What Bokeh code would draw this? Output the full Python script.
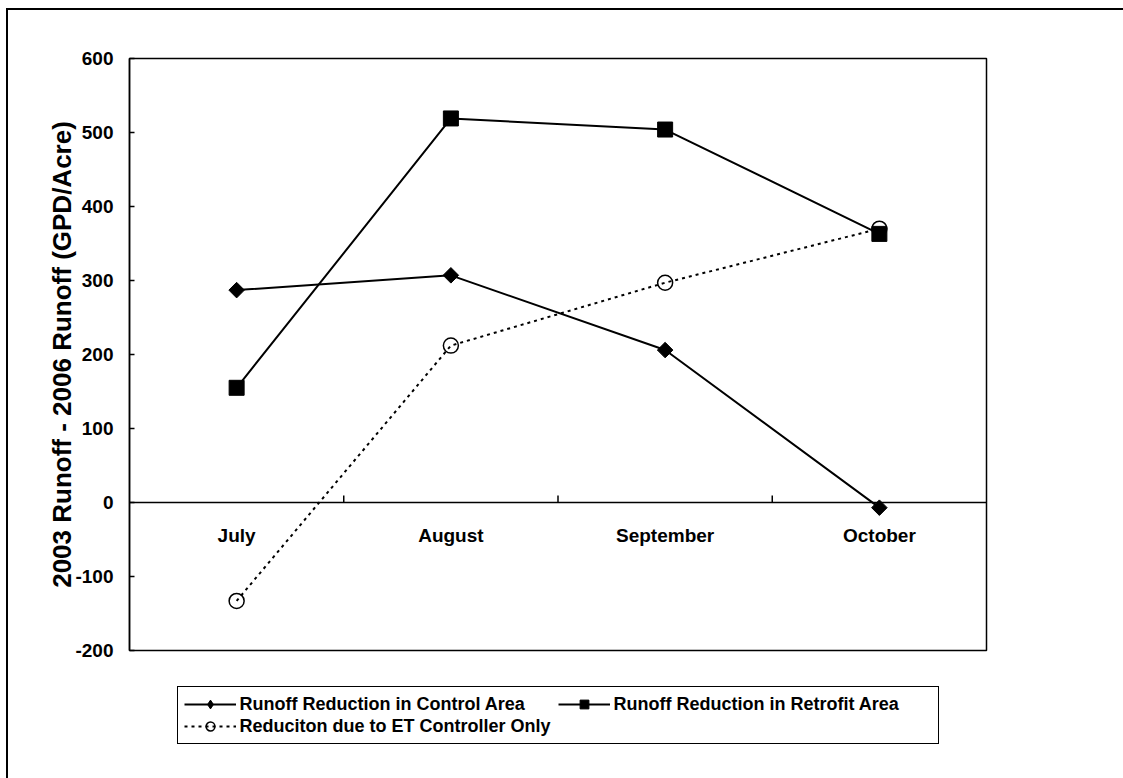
import math
from bokeh.plotting import figure
from bokeh.models import Range1d, FixedTicker, Span, Legend, LegendItem
from bokeh.core.properties import value
from bokeh.embed import file_html
from bokeh.resources import INLINE

months = ["July", "August", "September", "October"]
control = [287, 307, 206, -7]
retrofit = [155, 519, 504, 363]
et_only = [-133, 212, 297, 370]
y_ticks = [-200, -100, 0, 100, 200, 300, 400, 500, 600]
legend_labels = ["Runoff Reduction in Control Area",
                 "Runoff Reduction in Retrofit Area",
                 "Reduciton due to ET Controller Only"]
y_title = "2003 Runoff - 2006 Runoff (GPD/Acre)"

FONT = "Liberation Sans"
x = [i + 0.5 for i in range(len(months))]
boundaries = list(range(1, len(months)))

p = figure(frame_width=857, frame_height=592, output_backend="svg", toolbar_location=None,
           x_range=Range1d(0, len(months)), y_range=Range1d(y_ticks[0], y_ticks[-1]),
           x_axis_location=None,
           min_border_left=121, min_border_right=137, min_border_top=48, min_border_bottom=100)
p.styles = {"margin-left": "6px", "margin-top": "8px",
            "border-top": "2px solid black", "border-left": "2px solid black"}
p.outline_line_color = "black"
p.outline_line_alpha = 1
p.outline_line_width = 1.5
p.xgrid.visible = False
p.ygrid.visible = False
p.background_fill_color = "white"
p.border_fill_color = "white"

ya = p.yaxis[0]
ya.ticker = FixedTicker(ticks=y_ticks)
ya.major_label_overrides = {t: str(t) for t in y_ticks}
ya.major_tick_in = 5
ya.major_tick_out = 0
ya.minor_tick_in = 0
ya.minor_tick_out = 0
ya.axis_line_width = 1.5
ya.major_tick_line_width = 1.5
ya.major_label_standoff = 16
ya.major_label_text_font = FONT
ya.major_label_text_font_style = "bold"
ya.major_label_text_font_size = "19px"
ya.major_label_text_color = "black"
ya.axis_label = y_title
ya.axis_label_text_font = FONT
ya.axis_label_text_font_style = "bold"
ya.axis_label_text_font_size = "26px"
ya.axis_label_text_color = "black"
ya.axis_label_standoff = -5

p.add_layout(Span(location=0, dimension="width", line_color="black", line_width=1.5))
p.segment(x0=boundaries, x1=boundaries, y0=[0] * len(boundaries), y1=[9.5] * len(boundaries),
          line_color="black", line_width=1.5)
p.text(x=x, y=[0] * len(months), text=months, text_align="center", text_baseline="middle",
       y_offset=33, text_font=value(FONT), text_font_style="bold", text_font_size="19px",
       text_color="black")

et_line = p.line(x, et_only, line_color="black", line_width=2, line_dash="3 4")
et_pts = p.scatter(x, et_only, marker="circle", size=15, fill_alpha=0,
                   line_color="black", line_width=1.5)
c_line = p.line(x, control, line_color="black", line_width=2)
# diamond-shaped key for the legend, hidden underneath the plotted markers
c_key = p.scatter(x, control, marker="diamond", size=12, fill_color="black", line_color="black")
c_pts = p.scatter(x, control, marker="square", angle=math.pi / 4, size=11,
                  fill_color="black", line_color="black")
r_line = p.line(x, retrofit, line_color="black", line_width=2)
r_pts = p.scatter(x, retrofit, marker="square", size=15, fill_color="black", line_color="black")

legend = Legend(items=[LegendItem(label=legend_labels[0], renderers=[c_line, c_key]),
                       LegendItem(label=legend_labels[1], renderers=[r_line, r_pts]),
                       LegendItem(label=legend_labels[2], renderers=[et_line, et_pts])],
                location="top_center", orientation="horizontal", ncols=2,
                border_line_color="black", border_line_alpha=1, border_line_width=1,
                background_fill_color="white", background_fill_alpha=1,
                padding=6, spacing=0, margin=36,
                glyph_width=52, glyph_height=22, label_height=22, label_width=318,
                label_standoff=4, label_text_font=FONT, label_text_font_style="bold",
                label_text_font_size="18px", label_text_color="black")
p.add_layout(legend, "below")

open("out.html", "w").write(file_html(p, INLINE))
